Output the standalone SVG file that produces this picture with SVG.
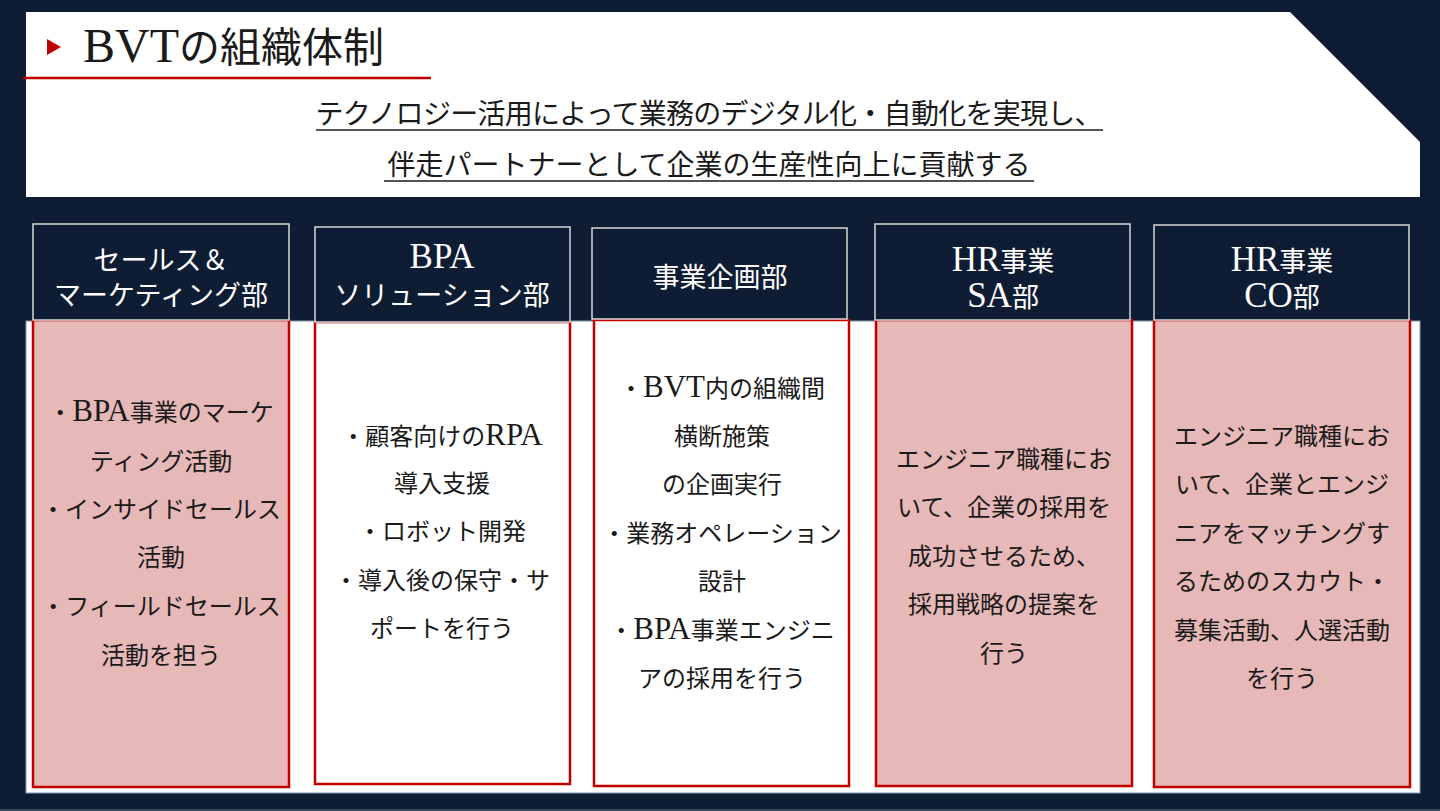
<svg xmlns="http://www.w3.org/2000/svg" width="1440" height="811" viewBox="0 0 1440 811">
<defs>
<style>
text{font-family:"Liberation Serif","Noto Sans CJK JP",serif;}
.hd{fill:#0E1D33;stroke:#D9D9D9;stroke-width:1.5;}
.ht{fill:#FFFFFF;font-size:27px;text-anchor:middle;}
.ht .l{font-size:35px;}
.pk{fill:#E6B8B7;stroke:#C00000;stroke-width:2.5;}
.wh{fill:#FFFFFF;stroke:#C00000;stroke-width:2.5;}
.bt{fill:#1A1A1A;font-size:24px;text-anchor:middle;}
.bt .l{font-size:31px;}
.st{fill:#1A1A1A;font-size:28px;text-anchor:middle;}
.ul{stroke:#1A1A1A;stroke-width:1.5;}
</style>
</defs>
<rect x="0" y="0" width="1440" height="811" fill="#0E1D33"/>
<line x1="0" y1="810" x2="1440" y2="810" stroke="#44546A" stroke-width="1.5"/>
<g id="header-panel">
<polygon points="26,12 1290,12 1420,142 1420,197 26,197" fill="#FFFFFF"/>
<polygon points="47,39 61,47 47,55" fill="#C00000"/>
<text x="83" y="62" fill="#1A1A1A"><tspan font-size="48">BVT</tspan><tspan font-size="41">の組織体制</tspan></text>
<line x1="23" y1="78" x2="431" y2="78" stroke="#C00000" stroke-width="2.5"/>
<text class="st" x="709" y="124" textLength="787" lengthAdjust="spacing">テクノロジー活用によって業務のデジタル化・自動化を実現し、</text>
<line class="ul" x1="316" y1="130" x2="1103" y2="130"/>
<text class="st" x="709" y="175">伴走パートナーとして企業の生産性向上に貢献する</text>
<line class="ul" x1="384" y1="181" x2="1034" y2="181"/>
</g>
<rect id="body-panel" x="26" y="321" width="1394" height="472" fill="#FFFFFF" stroke="#8497B0" stroke-width="1"/>
<g id="col1">
<rect class="pk" x="33" y="320" width="256" height="467"/>
<rect class="hd" x="33" y="224" width="256" height="96"/>
<text class="ht" x="161" y="270">セールス＆</text>
<text class="ht" x="161" y="305">マーケティング部</text>
<text class="bt" x="161" y="421">・<tspan class="l">BPA</tspan>事業のマーケ</text>
<text class="bt" x="161" y="470">ティング活動</text>
<text class="bt" x="161" y="518">・インサイドセールス</text>
<text class="bt" x="161" y="566">活動</text>
<text class="bt" x="161" y="615">・フィールドセールス</text>
<text class="bt" x="161" y="664">活動を担う</text>
</g>
<g id="col2">
<rect class="wh" x="315" y="322" width="255" height="462"/>
<rect class="hd" x="315" y="227" width="255" height="95"/>
<text class="ht" x="442" y="268"><tspan class="l">BPA</tspan></text>
<text class="ht" x="442" y="305">ソリューション部</text>
<text class="bt" x="442" y="445">・顧客向けの<tspan class="l">RPA</tspan></text>
<text class="bt" x="442" y="492">導入支援</text>
<text class="bt" x="442" y="540">・ロボット開発</text>
<text class="bt" x="442" y="589">・導入後の保守・サ</text>
<text class="bt" x="442" y="637">ポートを行う</text>
</g>
<g id="col3">
<rect class="wh" x="594" y="320" width="255" height="466"/>
<rect class="hd" x="592" y="228" width="255" height="91"/>
<text class="ht" x="720" y="287">事業企画部</text>
<text class="bt" x="722" y="397">・<tspan class="l">BVT</tspan>内の組織間</text>
<text class="bt" x="722" y="445">横断施策</text>
<text class="bt" x="722" y="493">の企画実行</text>
<text class="bt" x="722" y="542">・業務オペレーション</text>
<text class="bt" x="722" y="590">設計</text>
<text class="bt" x="722" y="639">・<tspan class="l">BPA</tspan>事業エンジニ</text>
<text class="bt" x="722" y="687">アの採用を行う</text>
</g>
<g id="col4">
<rect class="pk" x="876" y="320" width="256" height="466"/>
<rect class="hd" x="875" y="224" width="255" height="96"/>
<text class="ht" x="1003" y="271"><tspan class="l">HR</tspan>事業</text>
<text class="ht" x="1003" y="307"><tspan class="l">SA</tspan>部</text>
<text class="bt" x="1004" y="468">エンジニア職種にお</text>
<text class="bt" x="1004" y="516">いて、企業の採用を</text>
<text class="bt" x="1004" y="565">成功させるため、</text>
<text class="bt" x="1004" y="613">採用戦略の提案を</text>
<text class="bt" x="1004" y="662">行う</text>
</g>
<g id="col5">
<rect class="pk" x="1154" y="320" width="256" height="467"/>
<rect class="hd" x="1154" y="225" width="255" height="95"/>
<text class="ht" x="1282" y="271"><tspan class="l">HR</tspan>事業</text>
<text class="ht" x="1282" y="307"><tspan class="l">CO</tspan>部</text>
<text class="bt" x="1282" y="445">エンジニア職種にお</text>
<text class="bt" x="1282" y="493">いて、企業とエンジ</text>
<text class="bt" x="1282" y="542">ニアをマッチングす</text>
<text class="bt" x="1282" y="590">るためのスカウト・</text>
<text class="bt" x="1282" y="639">募集活動、人選活動</text>
<text class="bt" x="1282" y="687">を行う</text>
</g>
<g id="connectors"/>
</svg>
